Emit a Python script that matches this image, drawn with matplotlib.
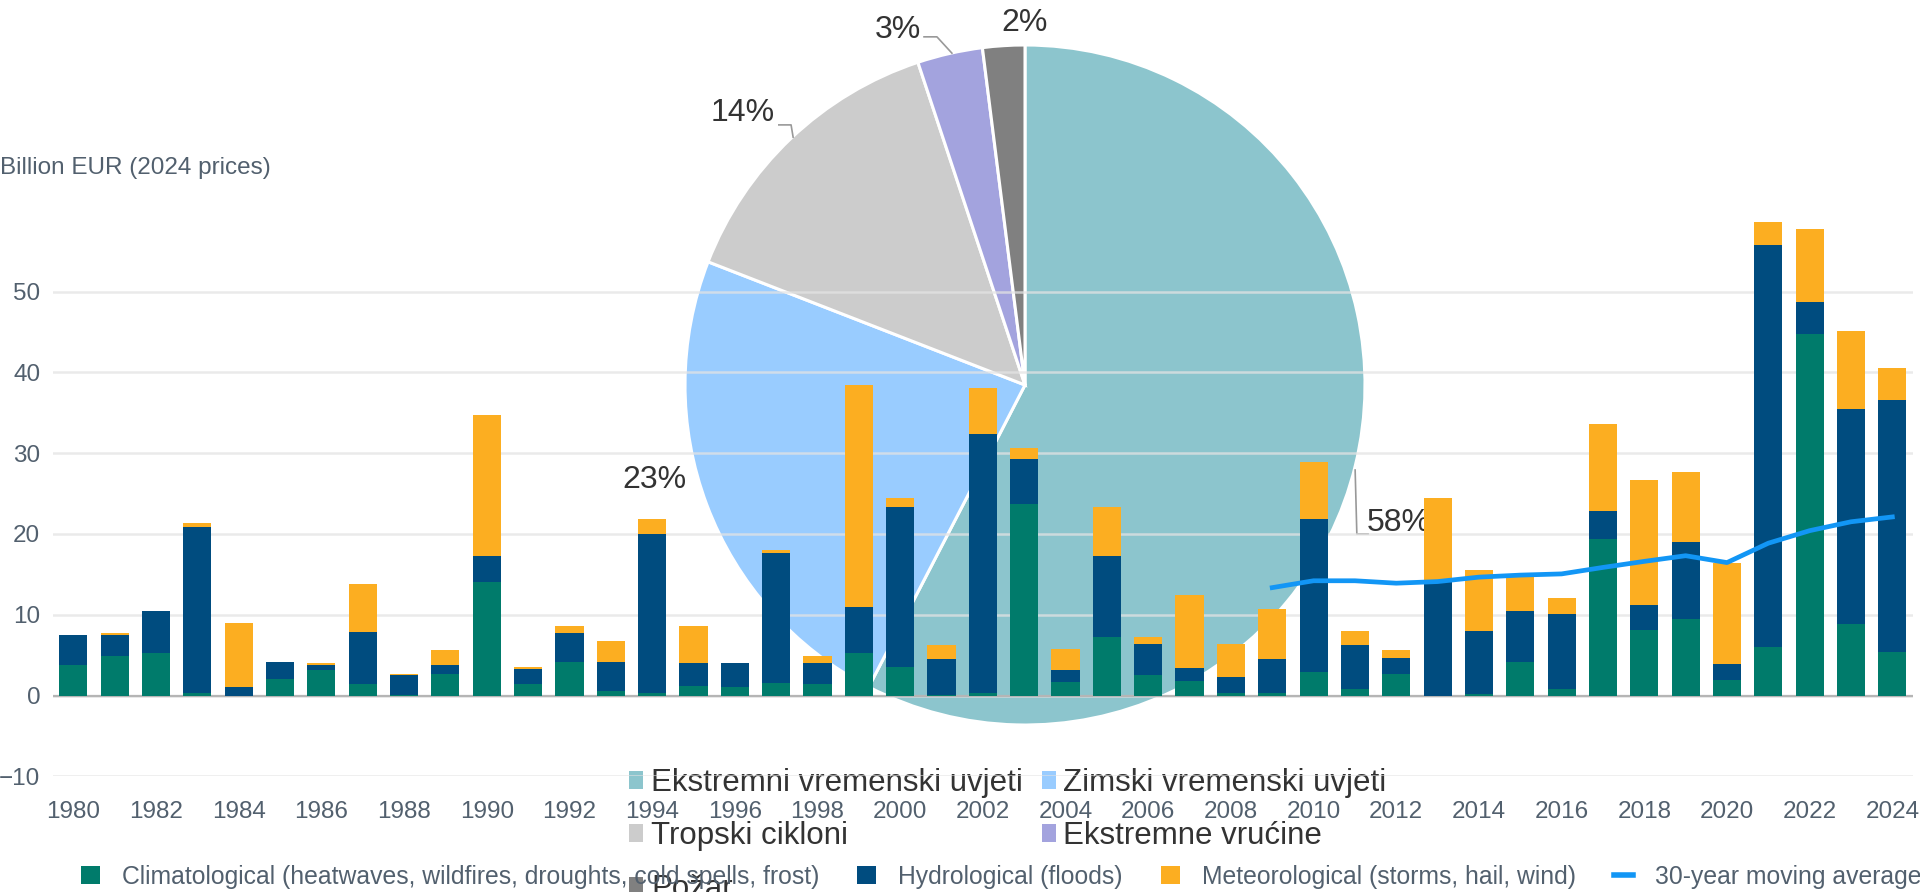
import matplotlib.pyplot as plt
from matplotlib.patches import Patch
from matplotlib.lines import Line2D

plt.rcParams['font.family'] = ['Liberation Sans', 'DejaVu Sans']

# bar data (billion EUR, 2024 prices)
years = list(range(1980, 2025))
climatological = [3.8, 4.9, 5.3, 0.3, 0.0, 2.1, 3.2, 1.4, 0.05, 2.7,
                  14.0, 1.4, 4.2, 0.5, 0.3, 1.2, 1.0, 1.6, 1.4, 5.3,
                  3.55, 0.1, 0.3, 23.7, 1.65, 7.3, 2.5, 1.85, 0.3, 0.3,
                  2.9, 0.85, 2.6, 0.0, 0.2, 4.1, 0.85, 19.4, 8.15, 9.45,
                  1.95, 6.05, 44.8, 8.85, 5.4]
hydrological = [3.7, 2.6, 5.2, 20.6, 1.0, 2.1, 0.6, 6.5, 2.45, 1.1,
                3.3, 1.9, 3.5, 3.7, 19.7, 2.8, 3.0, 16.0, 2.6, 5.65,
                19.75, 4.4, 32.1, 5.6, 1.45, 10.0, 3.9, 1.55, 2.0, 4.2,
                18.9, 5.4, 2.1, 14.2, 7.8, 6.4, 9.25, 3.4, 3.05, 9.55,
                1.95, 49.75, 3.9, 26.55, 31.2]
meteorological = [0.0, 0.2, 0.0, 0.4, 8.0, 0.0, 0.2, 5.9, 0.2, 1.8,
                  17.45, 0.25, 0.85, 2.6, 1.8, 4.55, 0.0, 0.4, 0.9, 27.45,
                  1.2, 1.7, 5.6, 1.3, 2.65, 6.0, 0.9, 9.0, 4.1, 6.2,
                  7.1, 1.7, 0.9, 10.3, 7.5, 4.55, 1.95, 10.8, 15.5, 8.6,
                  12.5, 2.8, 9.0, 9.65, 3.9]
avg_years = list(range(2009, 2025))
moving_avg = [13.35, 14.2, 14.2, 13.9, 14.1, 14.65, 14.9, 15.05,
              15.85, 16.6, 17.3, 16.45, 18.85, 20.4, 21.5, 22.1]

# pie data (%)
pie_labels = ['Ekstremni vremenski uvjeti', 'Zimski vremenski uvjeti',
              'Tropski cikloni', 'Ekstremne vrućine', 'Požar']
pie_shares = [57.6, 23.3, 14.0, 3.1, 2.0]

# layout / style
C_CLIM, C_HYD, C_MET, C_AVG = '#007b6b', '#004c7f', '#fcae21', '#1296f5'
PIE_COLORS = ['#8cc5cd', '#99ccff', '#cccccc', '#a3a3de', '#808080']
TXT = '#52606e'
W, H = 1920, 892
# pie label spots (pie axes units) and connector polylines
label_pos = [(1.10, -0.405), (-1.09, -0.28), (-0.83, 0.80), (-0.375, 1.045), (0.0, 1.065)]
connectors = [[(0.971, -0.25), (0.976, -0.438), (1.009, -0.438)],
              None,
              [(-0.724, 0.765), (-0.688, 0.765), (-0.682, 0.729)],
              [(-0.297, 1.024), (-0.259, 1.024), (-0.215, 0.976)],
              None]

fig = plt.figure(figsize=(W / 100, H / 100), dpi=100)

# pie sits behind the bar chart
cx, cy, r = 1025, 385, 340
pax = fig.add_axes([(cx - r) / W, (H - cy - r) / H, 2 * r / W, 2 * r / H], zorder=0)
pax.pie(pie_shares, colors=PIE_COLORS, startangle=90, counterclock=False,
        wedgeprops=dict(edgecolor='white', linewidth=2.2))
pax.set_xlim(-1, 1)
pax.set_ylim(-1, 1)
for share, (lx, ly), con in zip(pie_shares, label_pos, connectors):
    pax.text(lx, ly, f"{round(share)}%", ha='center', va='center',
             fontsize=23, color='#333333', clip_on=False)
    if con:
        xs, ys = zip(*con)
        pax.plot(xs, ys, color='#999999', lw=1.2, clip_on=False)

pie_handles = [Patch(facecolor=c) for c in PIE_COLORS]
order = [0, 2, 4, 1, 3]
pax.legend([pie_handles[i] for i in order], [pie_labels[i] for i in order],
           ncol=2, loc='upper left', bbox_to_anchor=(629 / W, 1 - 768 / H),
           bbox_transform=fig.transFigure, frameon=False, fontsize=22.5,
           labelcolor='#333333', handlelength=0.45, handleheight=0.55,
           handletextpad=0.25, columnspacing=0.6, labelspacing=0.74,
           borderpad=0, borderaxespad=0)

# stacked bars
ax = fig.add_axes([52.7 / W, (H - 776.3) / H, (1913 - 52.7) / W, (776.3 - 210.7) / H], zorder=1)
ax.set_facecolor('none')
bw = 0.68
ax.bar(years, climatological, width=bw, color=C_CLIM, zorder=3)
base = climatological
ax.bar(years, hydrological, width=bw, bottom=base, color=C_HYD, zorder=3)
base = [a + b for a, b in zip(climatological, hydrological)]
ax.bar(years, meteorological, width=bw, bottom=base, color=C_MET, zorder=3)
ax.plot(avg_years, moving_avg, color=C_AVG, lw=3.4, zorder=4)
ax.axhline(0, color='#b5b5b5', lw=1.6, zorder=2)

ax.set_xlim(1979.5, 2024.5)
ax.set_ylim(-10, 60)
ax.set_yticks(range(-10, 51, 10))
ax.set_yticklabels(['\u221210'] + [str(v) for v in range(0, 51, 10)])
ax.set_xticks(years[::2])
ax.grid(axis='y', color='#e3e3e3', lw=1.8, alpha=0.75, zorder=1)
ax.tick_params(axis='y', length=0, pad=9, labelsize=17.5, labelcolor=TXT)
ax.tick_params(axis='x', length=0, pad=18, labelsize=17.5, labelcolor=TXT)
for s in ax.spines.values():
    s.set_visible(False)

fig.text(0, 1 - 168 / H, 'Billion EUR (2024 prices)', ha='left', va='center',
         fontsize=17.5, color=TXT)

handles = [Patch(facecolor=C_CLIM), Patch(facecolor=C_HYD), Patch(facecolor=C_MET),
           Line2D([], [], color=C_AVG, lw=4)]
labels = ['Climatological (heatwaves, wildfires, droughts, cold spells, frost)',
          'Hydrological (floods)', 'Meteorological (storms, hail, wind)',
          '30-year moving average']
fig.legend(handles, labels, ncol=4, loc='center left', bbox_to_anchor=(81 / W, 1 - 877 / H),
           frameon=False, fontsize=17.8, labelcolor=TXT, handlelength=0.75,
           handleheight=0.75, handletextpad=0.9, columnspacing=1.55,
           borderpad=0, borderaxespad=0)

fig.savefig('out.png', dpi=100)
